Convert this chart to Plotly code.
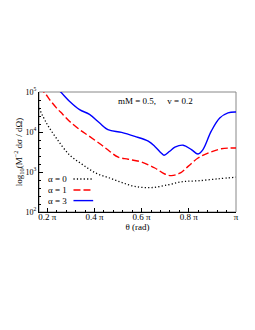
import plotly.graph_objects as go

# theta in units of pi, values as log10 of the cross section
theta_a0 = [0.165, 0.196, 0.238, 0.294, 0.351, 0.407, 0.464, 0.515, 0.571, 0.641, 0.712, 0.776, 0.839, 0.924, 1.0]
logs_a0 = [4.60, 4.23, 3.85, 3.43, 3.18, 2.97, 2.85, 2.74, 2.64, 2.61, 2.68, 2.76, 2.78, 2.83, 2.87]

theta_a1 = [0.165, 0.189, 0.210, 0.238, 0.266, 0.294, 0.337, 0.379, 0.429, 0.464, 0.501, 0.543, 0.599,
            0.656, 0.698, 0.726, 0.762, 0.797, 0.839, 0.881, 0.938, 1.0]
logs_a1 = [5.10, 4.98, 4.81, 4.61, 4.44, 4.27, 4.06, 3.89, 3.68, 3.52, 3.37, 3.32, 3.25,
           3.10, 2.95, 2.91, 2.97, 3.14, 3.35, 3.47, 3.58, 3.60]

theta_a3 = [0.165, 0.21, 0.252, 0.294, 0.337, 0.379, 0.421, 0.457, 0.515, 0.571, 0.628, 0.656, 0.684, 0.695,
            0.719, 0.741, 0.776, 0.811, 0.839, 0.860, 0.895, 0.931, 0.966, 1.0]
logs_a3 = [5.55, 5.25, 5.03, 4.77, 4.56, 4.44, 4.23, 4.06, 3.99, 3.89, 3.77, 3.64, 3.47, 3.42,
           3.52, 3.62, 3.67, 3.56, 3.45, 3.56, 4.02, 4.35, 4.48, 4.50]

x_tickvals = [0.2, 0.4, 0.6, 0.8, 1.0]
x_ticktext = ["0.2 π", "0.4 π", "0.6 π", "0.8 π", "π"]
y_tickvals = [2, 3, 4, 5]
y_ticktext = ["10<sup>2</sup>", "10<sup>3</sup>", "10<sup>4</sup>", "10<sup>5</sup>"]

legend_labels = ["α = 0", "α = 1", "α = 3"]
colors = ["black", "red", "blue"]
dashes = ["1.2px,2.2px", "7px,3px", "solid"]
widths = [1.3, 1.4, 1.4]

FONT = "Liberation Serif"

fig = go.Figure()
for xs, ys, c, d, w, name in [(theta_a0, logs_a0, colors[0], dashes[0], widths[0], legend_labels[0]),
                              (theta_a1, logs_a1, colors[1], dashes[1], widths[1], legend_labels[1]),
                              (theta_a3, logs_a3, colors[2], dashes[2], widths[2], legend_labels[2])]:
    fig.add_trace(go.Scatter(x=xs, y=ys, mode="lines", name=name, showlegend=False,
                             line=dict(color=c, dash=d, width=w, shape="spline", smoothing=1.0)))

# custom legend: text then line sample
leg_y = [0.275, 0.183, 0.095]
for lab, c, d, w, yy in zip(legend_labels, colors, dashes, widths, leg_y):
    fig.add_annotation(x=0.035, y=yy, xref="paper", yref="paper", text=lab, showarrow=False,
                       xanchor="left", yanchor="middle", font=dict(family=FONT, size=9, color="black"))
    fig.add_shape(type="line", xref="paper", yref="paper", x0=0.175, x1=0.275, y0=yy, y1=yy,
                  line=dict(color=c, dash=d, width=w))

fig.add_annotation(x=0.59, y=0.925, xref="paper", yref="paper", text="mM = 0.5,&nbsp;&nbsp;&nbsp;&nbsp; v = 0.2",
                   showarrow=False, xanchor="center", yanchor="middle",
                   font=dict(family=FONT, size=9, color="black"))

# light frame on top / right
fig.add_shape(type="rect", xref="paper", yref="paper", x0=0, x1=1, y0=0, y1=1,
              line=dict(color="#888888", width=1), layer="below")

fig.update_xaxes(range=[0.165, 1.0], tickvals=x_tickvals, ticktext=x_ticktext,
                 ticks="inside", ticklen=4, tickcolor="black", tickwidth=1,
                 showline=True, linecolor="black", linewidth=1, showgrid=False, zeroline=False,
                 minor=dict(tick0=0, dtick=0.04, ticks="inside", ticklen=2, tickcolor="black", showgrid=False),
                 tickfont=dict(family=FONT, size=9, color="black"), ticklabelstandoff=-4,
                 title=dict(text="θ (rad)", font=dict(family=FONT, size=9, color="black"), standoff=0))
fig.update_yaxes(range=[2, 5], tickvals=y_tickvals, ticktext=y_ticktext,
                 ticks="inside", ticklen=4, tickcolor="black", tickwidth=1,
                 showline=True, linecolor="black", linewidth=1, showgrid=False, zeroline=False,
                 minor=dict(tick0=0, dtick=0.2, ticks="inside", ticklen=2, tickcolor="black", showgrid=False),
                 tickfont=dict(family=FONT, size=8, color="black"),
                 title=dict(text="log<sub>10</sub>(M<sup>−2</sup> dσ / dΩ)",
                            font=dict(family=FONT, size=9, color="black"), standoff=1))

# body has an 8px default margin, so the figure is offset by 8px
fig.update_layout(width=247, height=322, margin=dict(l=31, r=19, t=84, b=118, autoexpand=False),
                  paper_bgcolor="white", plot_bgcolor="white",
                  font=dict(family=FONT, size=9, color="black"))

fig.write_html("out.html")
